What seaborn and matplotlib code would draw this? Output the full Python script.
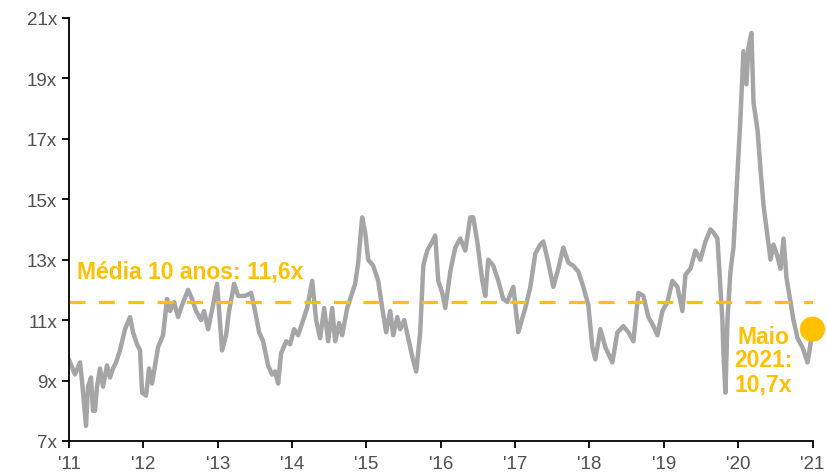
import numpy as np
import pandas as pd
import matplotlib.pyplot as plt
import seaborn as sns

# P/L do índice, anos em fração decimal
anos = [2011.000, 2011.081, 2011.148, 2011.175, 2011.229, 2011.256, 2011.296, 2011.323,
        2011.350, 2011.377, 2011.417, 2011.458, 2011.511, 2011.552, 2011.592, 2011.633,
        2011.686, 2011.754, 2011.821, 2011.861, 2011.915, 2011.956, 2011.983, 2012.036,
        2012.077, 2012.117, 2012.157, 2012.198, 2012.265, 2012.319, 2012.359, 2012.413,
        2012.467, 2012.521, 2012.602, 2012.655, 2012.709, 2012.777, 2012.817, 2012.871,
        2012.938, 2012.992, 2013.032, 2013.059, 2013.113, 2013.153, 2013.221, 2013.275,
        2013.369, 2013.450, 2013.503, 2013.557, 2013.611, 2013.678, 2013.732, 2013.773,
        2013.813, 2013.853, 2013.921, 2013.974, 2014.028, 2014.082, 2014.136, 2014.203,
        2014.271, 2014.324, 2014.378, 2014.432, 2014.486, 2014.540, 2014.580, 2014.634,
        2014.674, 2014.742, 2014.795, 2014.849, 2014.890, 2014.943, 2014.984, 2015.024,
        2015.091, 2015.159, 2015.213, 2015.266, 2015.320, 2015.361, 2015.415, 2015.455,
        2015.509, 2015.563, 2015.616, 2015.670, 2015.724, 2015.765, 2015.818, 2015.886,
        2015.926, 2015.966, 2016.020, 2016.061, 2016.128, 2016.195, 2016.262, 2016.330,
        2016.397, 2016.437, 2016.491, 2016.559, 2016.599, 2016.639, 2016.707, 2016.774,
        2016.841, 2016.895, 2016.976, 2017.043, 2017.137, 2017.205, 2017.272, 2017.339,
        2017.380, 2017.447, 2017.514, 2017.581, 2017.649, 2017.716, 2017.783, 2017.851,
        2017.918, 2017.985, 2018.039, 2018.079, 2018.147, 2018.214, 2018.308, 2018.376,
        2018.456, 2018.523, 2018.591, 2018.658, 2018.725, 2018.793, 2018.860, 2018.914,
        2018.981, 2019.049, 2019.116, 2019.183, 2019.250, 2019.291, 2019.358, 2019.425,
        2019.492, 2019.560, 2019.627, 2019.667, 2019.721, 2019.748, 2019.788, 2019.802,
        2019.829, 2019.856, 2019.896, 2019.937, 2019.990, 2020.031, 2020.071, 2020.111,
        2020.138, 2020.179, 2020.206, 2020.260, 2020.300, 2020.341, 2020.394, 2020.435,
        2020.475, 2020.529, 2020.569, 2020.610, 2020.650, 2020.704, 2020.744, 2020.798,
        2020.865, 2020.933, 2020.960, 2021.000]

pl = [9.7, 9.2, 9.6, 9.0, 7.5, 8.8, 9.1, 8.0,
      8.0, 8.8, 9.4, 8.8, 9.5, 9.1, 9.4, 9.6,
      10.0, 10.7, 11.1, 10.6, 10.2, 10.0, 8.6, 8.5,
      9.4, 8.9, 9.5, 10.1, 10.5, 11.7, 11.3, 11.6,
      11.1, 11.5, 12.0, 11.7, 11.3, 11.0, 11.3, 10.7,
      11.5, 12.2, 10.9, 10.0, 10.5, 11.3, 12.2, 11.8,
      11.8, 11.9, 11.3, 10.6, 10.3, 9.5, 9.2, 9.3,
      8.9, 9.9, 10.3, 10.2, 10.7, 10.5, 10.9, 11.4,
      12.3, 11.0, 10.4, 11.4, 10.3, 11.4, 10.3, 10.9,
      10.5, 11.4, 11.8, 12.2, 12.9, 14.4, 13.9, 13.0,
      12.8, 12.3, 11.4, 10.6, 11.3, 10.5, 11.1, 10.7,
      11.0, 10.4, 9.8, 9.3, 10.6, 12.8, 13.3, 13.6,
      13.8, 12.3, 11.9, 11.4, 12.6, 13.4, 13.7, 13.3,
      14.4, 14.4, 13.6, 12.3, 11.8, 13.0, 12.8, 12.3,
      11.7, 11.6, 12.1, 10.6, 11.4, 12.1, 13.2, 13.5,
      13.6, 12.9, 12.1, 12.7, 13.4, 12.9, 12.8, 12.6,
      12.1, 11.5, 10.1, 9.7, 10.7, 10.1, 9.6, 10.6,
      10.8, 10.6, 10.3, 11.9, 11.8, 11.1, 10.8, 10.5,
      11.3, 11.6, 12.3, 12.1, 11.3, 12.5, 12.7, 13.3,
      13.0, 13.6, 14.0, 13.9, 13.7, 12.6, 11.0, 9.9,
      8.6, 11.0, 12.6, 13.4, 15.8, 17.7, 19.9, 18.8,
      20.0, 20.5, 18.2, 17.3, 16.0, 14.8, 13.8, 13.0,
      13.5, 13.1, 12.7, 13.7, 12.4, 11.6, 11.0, 10.4,
      10.1, 9.6, 10.0, 10.7]

media = 11.6
anos_ticks = list(range(2011, 2022))
rotulos_x = ["'" + str(a)[2:] for a in anos_ticks]
y_ticks = [7, 9, 11, 13, 15, 17, 19, 21]

cinza = '#A5A5A5'
ouro = '#FFC000'

df = pd.DataFrame({'ano': anos, 'pl': pl})

sns.set_style('ticks')
plt.rcParams['font.family'] = ['Liberation Sans', 'DejaVu Sans']

fig = plt.figure(figsize=(8.28, 4.77), dpi=100)
ax = fig.add_axes([0.0833, 0.0734, 0.898, 0.887])

sns.lineplot(data=df, x='ano', y='pl', color=cinza, linewidth=3.2, ax=ax)

# média de 10 anos
ax.axhline(media, color=ouro, linewidth=2.3, dashes=(5, 4.2))

# ponto final
sns.scatterplot(x=[anos[-1]], y=[pl[-1]], color=ouro, s=330, edgecolor='none',
                ax=ax, clip_on=False, zorder=5)

ax.text(2011.11, 12.62, 'Média 10 anos: 11,6x', color=ouro, fontsize=16.5,
        fontweight='bold', va='center', ha='left')
ax.text(2020.34, 9.68, 'Maio\n2021:\n10,7x', color=ouro, fontsize=16.5,
        fontweight='bold', va='center', ha='center', linespacing=1.05)

ax.set_xlim(2011, 2021)
ax.set_ylim(7, 21)
ax.set_xticks(anos_ticks)
ax.set_xticklabels(rotulos_x)
ax.set_yticks(y_ticks)
ax.set_yticklabels([f'{v}x' for v in y_ticks])
ax.set_xlabel('')
ax.set_ylabel('')

sns.despine(ax=ax)
for s in ['left', 'bottom']:
    ax.spines[s].set_color('black')
    ax.spines[s].set_linewidth(1.3)
ax.tick_params(axis='both', colors='black', width=1.3, length=5,
               labelsize=13.5, labelcolor='#505050')
ax.tick_params(axis='x', pad=5)

fig.savefig('out.png', dpi=100)
